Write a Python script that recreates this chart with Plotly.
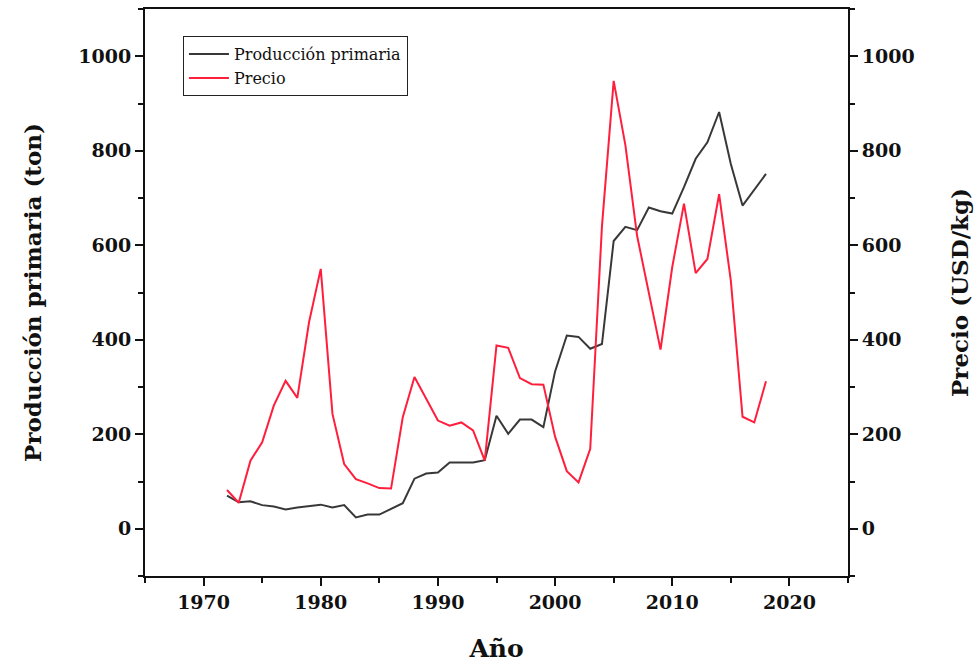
import plotly.graph_objects as go

years = list(range(1972, 2019))
produccion = [70, 56, 58, 50, 47, 41, 45, 48, 51, 45, 50, 24, 30, 30, 42, 54,
              106, 117, 119, 140, 140, 140, 145, 239, 201, 231, 231, 215, 333, 409,
              406, 381, 391, 609, 639, 632, 680, 672, 667, 723, 783, 818, 882, 772,
              684, 717, 751]
precio = [82, 55, 144, 183, 261, 313, 277, 437, 550, 243, 137, 105, 96, 86, 85, 236,
          321, 274, 229, 218, 225, 208, 144, 388, 383, 319, 306, 305, 195, 122,
          98, 169, 640, 948, 812, 620, 497, 379, 554, 688, 541, 571, 708, 525,
          237, 225, 312]

FONT = "DejaVu Serif"

fig = go.Figure()
fig.add_trace(go.Scatter(x=years, y=produccion, mode="lines", name="Producción primaria",
                         line=dict(color="#383838", width=2)))
fig.add_trace(go.Scatter(x=years, y=precio, mode="lines", name="Precio",
                         line=dict(color="#FF1F3D", width=2), yaxis="y2"))

tickfont = dict(family=FONT, size=19, color="#111111")
titlefont = dict(family=FONT, size=23, color="#111111")

fig.update_layout(
    width=978, height=666,
    margin=dict(l=145, r=130, t=7, b=90),
    paper_bgcolor="white", plot_bgcolor="white",
    showlegend=True,
    legend=dict(x=0.054, y=0.952, xanchor="left", yanchor="top",
                bordercolor="#222222", borderwidth=1, bgcolor="rgba(255,255,255,0)",
                font=dict(family=FONT, size=16, color="#111111"),
                tracegroupgap=0, itemwidth=40),
    xaxis=dict(range=[1965, 2025], dtick=10, tick0=1970, showgrid=False, zeroline=False,
               showline=True, linecolor="#111111", linewidth=2, mirror=True,
               ticks="outside", ticklen=8, tickwidth=2, tickcolor="#111111",
               minor=dict(dtick=5, ticks="outside", ticklen=5, tickwidth=2, tickcolor="#111111"),
               tickfont=tickfont, tickprefix="<b>", ticksuffix="</b>",
               title=dict(text="<b>Año</b>", font=dict(family=FONT, size=25, color="#111111"), standoff=28)),
    yaxis=dict(range=[-100, 1100], dtick=200, tick0=0, showgrid=False, zeroline=False,
               showline=True, linecolor="#111111", linewidth=2,
               ticks="outside", ticklen=8, tickwidth=2, tickcolor="#111111",
               minor=dict(dtick=100, ticks="outside", ticklen=5, tickwidth=2, tickcolor="#111111"),
               tickfont=tickfont, tickprefix="<b>", ticksuffix="</b>",
               title=dict(text="<b>Producción primaria (ton)</b>", font=titlefont, standoff=30)),
    yaxis2=dict(range=[-100, 1100], dtick=200, tick0=0, showgrid=False, zeroline=False,
                overlaying="y", side="right",
                showline=True, linecolor="#111111", linewidth=2,
                ticks="outside", ticklen=8, tickwidth=2, tickcolor="#111111",
                minor=dict(dtick=100, ticks="outside", ticklen=5, tickwidth=2, tickcolor="#111111"),
                tickfont=tickfont, tickprefix="<b>", ticksuffix="</b>",
                title=dict(text="<b>Precio (USD/kg)</b>", font=titlefont, standoff=38)),
)

fig.write_html("out.html")
